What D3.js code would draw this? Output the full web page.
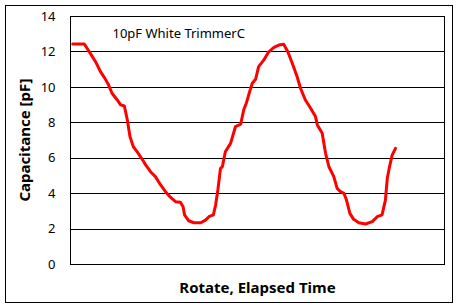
<!DOCTYPE html>
<html>
<head>
<meta charset="utf-8">
<script src="https://cdn.jsdelivr.net/npm/d3@7"></script>
<style>
  body { margin: 0; background: #fff; }
  text { font-family: "Noto Sans", "Open Sans", sans-serif; }
</style>
</head>
<body>
<script>
// elapsed time (percent of the axis) and capacitance readings
const elapsed = [0.6, 3.7, 5.3, 6.7, 8.0, 9.2, 10.2, 11.1, 12.5, 13.4, 14.4, 15.2, 15.9, 16.8, 17.8,
  19.6, 20.1, 21.4, 22.7, 24.1, 25.4, 26.7, 28.1, 29.4, 30.1, 30.5, 31.6, 33.0, 34.8, 36.1,
  37.0, 38.2, 38.8, 39.4, 40.1, 40.6, 41.4, 42.8, 44.1, 45.5, 46.3, 47.0, 47.9, 48.6, 49.5,
  50.3, 51.7, 53.0, 54.4, 55.7, 57.0, 58.1, 59.3, 60.6, 61.5, 62.8, 64.2, 65.5, 66.0, 67.3,
  68.2, 69.1, 70.4, 71.3, 72.2, 73.1, 73.8, 74.7, 75.7, 77.1, 78.9, 80.7, 82.0, 83.3, 84.2,
  84.7, 85.3, 86.0, 86.9];
const capacitance = [12.42, 12.42, 11.89, 11.42, 10.86, 10.48, 10.10, 9.64, 9.26, 8.98, 8.92, 8.13, 7.19, 6.62, 6.34,
  5.77, 5.59, 5.21, 4.93, 4.46, 4.08, 3.77, 3.52, 3.48, 3.23, 2.77, 2.44, 2.33, 2.33, 2.48,
  2.67, 2.77, 3.33, 4.18, 5.40, 5.49, 6.34, 6.81, 7.75, 7.89, 8.69, 9.07, 9.73, 10.20, 10.43,
  11.14, 11.52, 11.98, 12.23, 12.36, 12.40, 11.98, 11.33, 10.57, 9.92, 9.26, 8.79, 8.32, 7.85, 7.38,
  6.25, 5.49, 4.93, 4.27, 4.08, 3.99, 3.61, 2.86, 2.52, 2.33, 2.26, 2.39, 2.67, 2.77, 3.61,
  4.84, 5.49, 6.15, 6.53];
const yTicks = [0, 2, 4, 6, 8, 10, 12, 14];
const chartTitle = "10pF White TrimmerC";
const xTitle = "Rotate, Elapsed Time";
const yTitle = "Capacitance [pF]";

let margin = null, width = null, height = null;
let svg = null, root = null;
let x, y = null;

setupCanvasSize();
appendSvg("body");
setupScales();
appendGrid();
appendYAxis();
appendLine();
appendTexts();

function setupCanvasSize() {
  margin = {top: 16, left: 70.5, bottom: 44, right: 14.5};
  width = 459 - margin.left - margin.right;
  height = 308 - margin.top - margin.bottom;
}

function appendSvg(domElement) {
  root = d3.select(domElement).append("svg")
    .attr("width", 459)
    .attr("height", 308);

  // outer chart frame
  root.append("rect")
    .attr("x", 5.5).attr("y", 5.5)
    .attr("width", 447).attr("height", 297)
    .attr("fill", "#fff")
    .attr("stroke", "#000");

  svg = root.append("g")
    .attr("transform", `translate(${margin.left}, ${margin.top})`);
}

function setupScales() {
  x = d3.scaleLinear().range([0, width]).domain([0, 100]);
  y = d3.scaleLinear().range([height, 0]).domain([0, 14]);
}

function appendGrid() {
  svg.append("g")
    .selectAll("line")
    .data(yTicks)
    .enter().append("line")
    .attr("x1", 0).attr("x2", width)
    .attr("y1", d => Math.round(y(d)) + 0.5)
    .attr("y2", d => Math.round(y(d)) + 0.5)
    .attr("stroke", "#000");

  svg.append("rect")
    .attr("x", 0).attr("y", 0.5)
    .attr("width", width).attr("height", height)
    .attr("fill", "none")
    .attr("stroke", "#000");
}

function appendYAxis() {
  const axis = svg.append("g")
    .call(d3.axisLeft(y).tickValues(yTicks).tickSize(0).tickPadding(15));
  axis.select(".domain").remove();
  axis.selectAll("text")
    .style("font-family", "'Noto Sans', sans-serif")
    .style("font-size", "13px")
    .attr("fill", "#000");
}

function appendLine() {
  const pts = elapsed.map((t, i) => [t, capacitance[i]]);
  const line = d3.line()
    .x(d => x(d[0]))
    .y(d => y(d[1]));
  svg.append("path")
    .datum(pts)
    .attr("d", line)
    .attr("fill", "none")
    .attr("stroke", "#ff0000")
    .attr("stroke-width", 3)
    .attr("stroke-linejoin", "round")
    .attr("stroke-linecap", "round");
}

function appendTexts() {
  svg.append("text")
    .attr("x", 42).attr("y", 22)
    .style("font-size", "13px")
    .text(chartTitle);

  root.append("text")
    .attr("x", margin.left + width / 2).attr("y", 293)
    .attr("text-anchor", "middle")
    .style("font-size", "15px")
    .style("font-weight", "bold")
    .text(xTitle);

  root.append("text")
    .attr("transform", `translate(30, ${margin.top + height / 2}) rotate(-90)`)
    .attr("text-anchor", "middle")
    .style("font-size", "15px")
    .style("font-weight", "bold")
    .text(yTitle);
}
</script>
</body>
</html>
